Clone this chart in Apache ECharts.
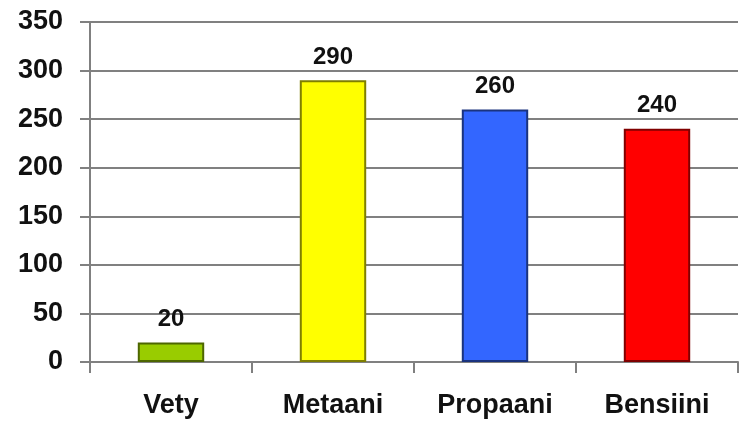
<!DOCTYPE html>
<html><head><meta charset="utf-8">
<script src="https://cdn.jsdelivr.net/npm/echarts@6/dist/echarts.min.js"></script>
<style>html,body{margin:0;padding:0;background:#fff}#c{width:739px;height:421px}</style>
</head><body><div id="c"></div>
<script>
const categories = ['Vety', 'Metaani', 'Propaani', 'Bensiini'];
const values = [20, 290, 260, 240];
const barColors = ['#99cc00', '#ffff00', '#3366ff', '#ff0000'];
const barEdges = ['#4d6600', '#7f7f00', '#1a337f', '#800000'];
const yTicks = [0, 50, 100, 150, 200, 250, 300, 350];

const FONT = '"Liberation Sans", Arial, sans-serif';
const chart = echarts.init(document.getElementById('c'), null, {renderer: 'canvas'});
chart.setOption({
  animation: false,
  backgroundColor: '#fff',
  grid: {left: 90, right: 1, top: 22, bottom: 59, containLabel: false},
  xAxis: {
    type: 'category',
    data: categories,
    axisLine: {show: true, lineStyle: {color: '#808080', width: 2}},
    axisTick: {show: true, length: 11, lineStyle: {color: '#808080', width: 2}},
    axisLabel: {color: '#111', fontFamily: FONT, fontWeight: 'bold', fontSize: 27, margin: 30}
  },
  yAxis: {
    type: 'value',
    min: yTicks[0], max: yTicks[yTicks.length - 1], interval: 50,
    axisLine: {show: true, lineStyle: {color: '#808080', width: 2}},
    axisTick: {show: true, length: 10, lineStyle: {color: '#808080', width: 2}},
    splitLine: {show: true, lineStyle: {color: '#808080', width: 2}},
    axisLabel: {color: '#111', fontFamily: FONT, fontWeight: 'bold', fontSize: 27, margin: 27}
  },
  series: [{
    type: 'bar',
    barWidth: '41%',
    data: values.map((v, i) => ({
      value: v,
      itemStyle: {color: barColors[i], borderColor: barEdges[i], borderWidth: 2}
    })),
    label: {
      show: true, position: 'top', distance: 11,
      color: '#111', fontFamily: FONT, fontWeight: 'bold', fontSize: 24
    }
  }]
});
</script></body></html>
